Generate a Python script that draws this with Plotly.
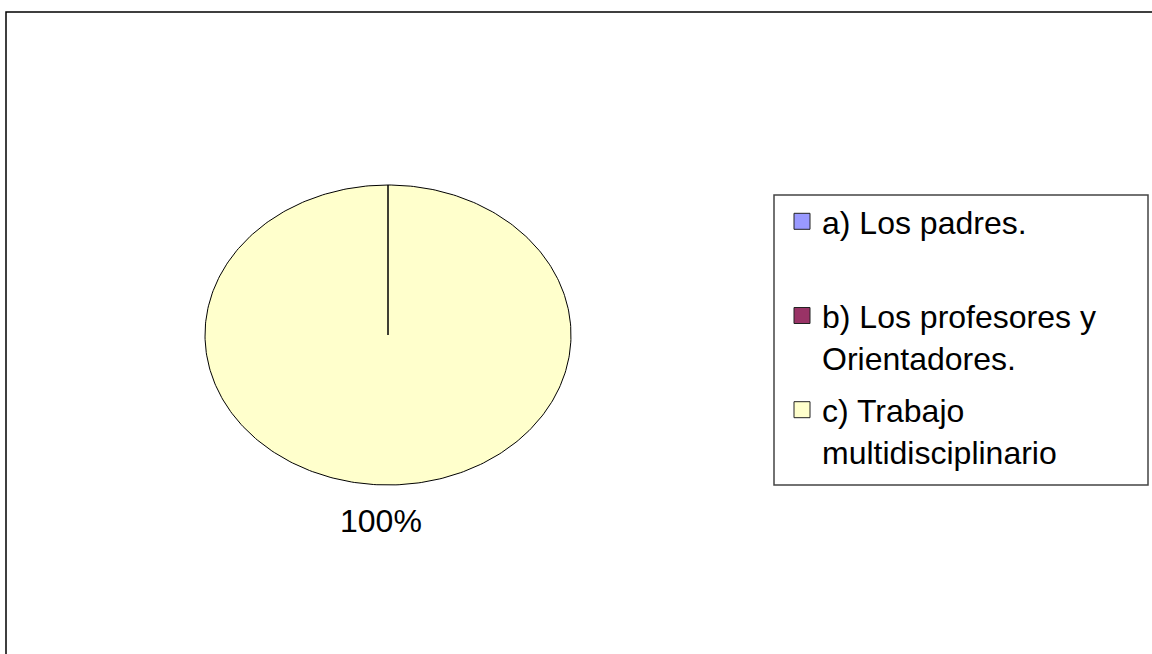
import numpy as np
import plotly.graph_objects as go

# Chart data
categories = ["a) Los padres.", "b) Los profesores y Orientadores.", "c) Trabajo multidisciplinario"]
legend_labels = ["a) Los padres.<br> ", "b) Los profesores y<br>Orientadores.", "c) Trabajo<br>multidisciplinario"]
values = [0, 0, 100]
colors = ["#9999FF", "#993366", "#FFFFCC"]

FONT = "Liberation Sans, Arial, sans-serif"
W, H = 1152, 654

# pie geometry in pixels (layout only)
cx, cy = 388, 335
rx, ry = 183, 150

total = sum(values)
fracs = [v / total for v in values]

fig = go.Figure()

# slices drawn as elliptical wedges, clockwise from 12 o'clock like Excel
cum = 0.0
label_positions = []
for cat, frac, col in zip(categories, fracs, colors):
    a0 = np.pi / 2 - 2 * np.pi * cum
    a1 = np.pi / 2 - 2 * np.pi * (cum + frac)
    n = max(2, int(frac * 360) + 2)
    t = np.linspace(a0, a1, n)
    xs = np.concatenate([[0], np.cos(t), [0]])
    ys = np.concatenate([[0], np.sin(t), [0]])
    fig.add_trace(go.Scatter(
        x=xs, y=ys, mode="lines", fill="toself", fillcolor=col,
        line=dict(color="black", width=1 if frac > 0 else 2),
        showlegend=False, hoverinfo="skip", name=cat,
    ))
    if frac > 0:
        mid = (a0 + a1) / 2
        label_positions.append((1.25 * np.cos(mid) - 0.04, 1.24 * np.sin(mid), f"{frac * 100:.0f}%"))
    cum += frac

# legend entries
for i, (lab, col) in enumerate(zip(legend_labels, colors)):
    fig.add_trace(go.Scatter(
        x=[None], y=[None], mode="markers", name=lab,
        marker=dict(symbol="square", size=19, color=col, line=dict(color="#222", width=1)),
        legendgroup=f"g{i}",
    ))

for lx, ly, txt in label_positions:
    fig.add_annotation(x=lx, y=ly, text=txt, showarrow=False,
                       font=dict(family=FONT, size=32, color="black"))

fig.update_layout(
    width=W, height=H,
    margin=dict(l=0, r=0, t=0, b=0),
    paper_bgcolor="white", plot_bgcolor="white",
    xaxis=dict(domain=[0, 1], range=[-cx / rx, (W - cx) / rx],
               visible=False, fixedrange=True),
    yaxis=dict(domain=[0, 1], range=[(cy - H) / ry, cy / ry],
               visible=False, fixedrange=True),
    legend=dict(
        x=782 / W, y=1 - 194 / H, xanchor="left", yanchor="top",
        font=dict(family=FONT, size=32, color="black"),
        bgcolor="rgba(0,0,0,0)", borderwidth=0,
        traceorder="grouped", tracegroupgap=8, valign="top",
    ),
    shapes=[
        # outer chart border
        dict(type="rect", xref="paper", yref="paper",
             x0=6 / W, x1=1.02, y0=-0.02, y1=1 - 12 / H,
             line=dict(color="black", width=1.5)),
        # legend box
        dict(type="rect", xref="paper", yref="paper",
             x0=774 / W, x1=1148 / W, y0=1 - 485 / H, y1=1 - 195 / H,
             line=dict(color="#444", width=1.5)),
    ],
)

fig.write_html("out.html", config={"displayModeBar": False},
               post_script="document.body.style.margin='0';")
